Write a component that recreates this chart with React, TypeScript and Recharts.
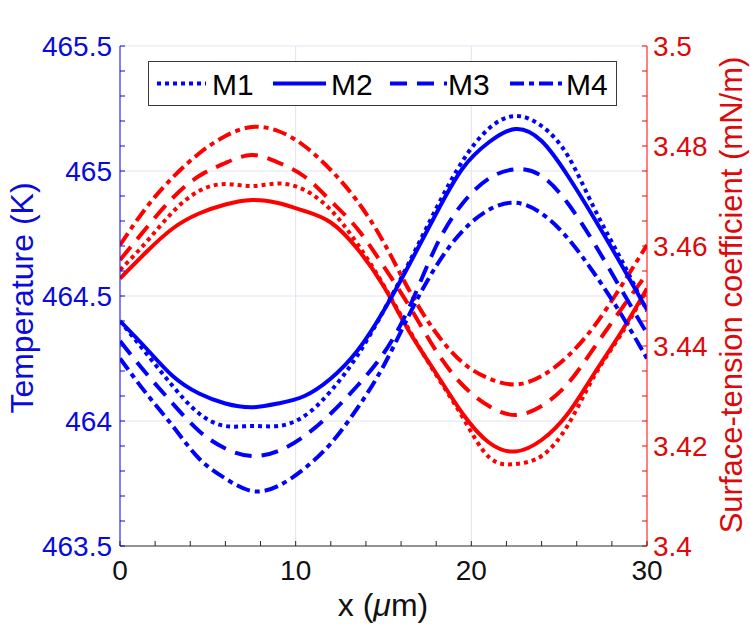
import { Line, LineChart, ReferenceLine, XAxis, YAxis } from "recharts";

// sampled positions along the channel (µm)
const X_UM = [0, 1.5, 3, 4.5, 6, 7.5, 9, 10.5, 12, 13.5, 15, 16.5, 18, 19.5, 21, 22.5, 24, 25.5, 27, 28.5, 30];

// temperature (K), left axis
const TEMP_M1 = [464.4, 464.27, 464.14, 464.03, 463.98, 463.98, 463.98, 464.02, 464.12, 464.26, 464.44, 464.64, 464.85, 465.04, 465.17, 465.22, 465.18, 465.06, 464.85, 464.65, 464.44];
const TEMP_M2 = [464.4, 464.29, 464.18, 464.11, 464.07, 464.055, 464.07, 464.1, 464.17, 464.28, 464.44, 464.63, 464.83, 465.01, 465.115, 465.168, 465.12, 464.98, 464.81, 464.63, 464.445];
const TEMP_M3 = [464.32, 464.19, 464.07, 463.96, 463.89, 463.86, 463.88, 463.94, 464.03, 464.14, 464.27, 464.46, 464.7, 464.87, 464.97, 465.007, 464.98, 464.87, 464.71, 464.53, 464.35];
const TEMP_M4 = [464.25, 464.11, 463.98, 463.85, 463.77, 463.72, 463.74, 463.81, 463.91, 464.05, 464.22, 464.43, 464.62, 464.76, 464.845, 464.873, 464.83, 464.73, 464.59, 464.43, 464.25];

// surface-tension coefficient (mN/m), right axis
const SIGMA_M1 = [3.4552, 3.4608, 3.4668, 3.471, 3.4724, 3.472, 3.4725, 3.4712, 3.4672, 3.4605, 3.4522, 3.443, 3.4342, 3.4258, 3.4178, 3.4164, 3.418, 3.4242, 3.434, 3.4422, 3.4513];
const SIGMA_M2 = [3.4535, 3.4588, 3.4635, 3.4665, 3.4683, 3.4692, 3.4686, 3.467, 3.4647, 3.4595, 3.452, 3.4427, 3.4345, 3.4265, 3.4207, 3.4189, 3.4212, 3.4265, 3.4345, 3.4426, 3.4515];
const SIGMA_M3 = [3.4572, 3.4636, 3.4696, 3.474, 3.4766, 3.4782, 3.4767, 3.4739, 3.469, 3.4635, 3.456, 3.4478, 3.439, 3.4322, 3.428, 3.4262, 3.428, 3.4325, 3.4397, 3.4472, 3.4545];
const SIGMA_M4 = [3.4602, 3.4677, 3.4737, 3.4785, 3.482, 3.4838, 3.483, 3.48, 3.4752, 3.469, 3.4608, 3.4509, 3.4426, 3.4367, 3.4335, 3.4323, 3.434, 3.438, 3.444, 3.4518, 3.4602];

// ticks (all tick marks) and labelled ticks
const X_TICKS = [0, 2, 4, 6, 8, 10, 12, 14, 16, 18, 20, 22, 24, 26, 28, 30];
const X_LABELS = [0, 10, 20, 30];
const TEMP_TICKS = [463.5, 463.6, 463.7, 463.8, 463.9, 464, 464.1, 464.2, 464.3, 464.4, 464.5, 464.6, 464.7, 464.8, 464.9, 465, 465.1, 465.2, 465.3, 465.4, 465.5];
const TEMP_LABELS = [463.5, 464, 464.5, 465, 465.5];
const SIGMA_TICKS = [3.4, 3.405, 3.41, 3.415, 3.42, 3.425, 3.43, 3.435, 3.44, 3.445, 3.45, 3.455, 3.46, 3.465, 3.47, 3.475, 3.48, 3.485, 3.49, 3.495, 3.5];
const SIGMA_LABELS = [3.4, 3.42, 3.44, 3.46, 3.48, 3.5];
const X_GRID = [10, 20];
const TEMP_GRID = [464, 464.5, 465, 465.5];

const LEGEND = ["M1", "M2", "M3", "M4"];

const BLUE = "#0000ff";
const RED = "#ff0000";
const BLUE_TEXT = "#0a0adc";
const RED_TEXT = "#dc0a0a";
const AXIS_GRAY = "#262626";
const GRID = "#e2e2ee";
const FONT = '"Liberation Sans", Arial, Helvetica, sans-serif';
const TICK_FONT = 28;
const TICK_LEN = 5;
const MARGIN = 8;

// line styles per model: dotted, solid, dashed, dash-dot
const DASHES = ["4 4", undefined, "17 10", "14 5 5 5"];
const LINE_W = 4;

const rows = X_UM.map((x, i) => ({
  x,
  tM1: TEMP_M1[i],
  tM2: TEMP_M2[i],
  tM3: TEMP_M3[i],
  tM4: TEMP_M4[i],
  sM1: SIGMA_M1[i],
  sM2: SIGMA_M2[i],
  sM3: SIGMA_M3[i],
  sM4: SIGMA_M4[i],
}));

function isLabel(v: number, labels: number[]) {
  return labels.some((l) => Math.abs(l - v) < 1e-9);
}

function BottomTick(props: any) {
  const { x, y, payload } = props;
  const axisY = y - MARGIN;
  const v = payload.value;
  return (
    <g>
      <line x1={x} x2={x} y1={axisY} y2={axisY - TICK_LEN} stroke={AXIS_GRAY} strokeWidth={1} />
      {isLabel(v, X_LABELS) && (
        <text x={x} y={axisY + 24} textAnchor="middle" dominantBaseline="central" fontSize={TICK_FONT} fontFamily={FONT} fill="#111">
          {v}
        </text>
      )}
    </g>
  );
}

function LeftTick(props: any) {
  const { x, y, payload } = props;
  const axisX = x + MARGIN;
  const v = payload.value;
  return (
    <g>
      <line x1={axisX} x2={axisX + TICK_LEN} y1={y} y2={y} stroke={BLUE_TEXT} strokeWidth={1} />
      {isLabel(v, TEMP_LABELS) && (
        <text x={axisX - 8} y={y} textAnchor="end" dominantBaseline="central" fontSize={TICK_FONT} fontFamily={FONT} fill={BLUE_TEXT}>
          {v}
        </text>
      )}
    </g>
  );
}

function RightTick(props: any) {
  const { x, y, payload } = props;
  const axisX = x - MARGIN;
  const v = payload.value;
  return (
    <g>
      <line x1={axisX} x2={axisX - TICK_LEN} y1={y} y2={y} stroke={RED_TEXT} strokeWidth={1} />
      {isLabel(v, SIGMA_LABELS) && (
        <text x={axisX + 6} y={y} textAnchor="start" dominantBaseline="central" fontSize={TICK_FONT} fontFamily={FONT} fill={RED_TEXT}>
          {v}
        </text>
      )}
    </g>
  );
}

function LegendBox() {
  const samples = [
    [8, 57],
    [124, 177],
    [241, 298],
    [361, 413],
  ];
  const textX = [63, 182, 299, 417];
  return (
    <div
      style={{
        position: "absolute",
        left: 148,
        top: 61,
        width: 469,
        height: 45,
        border: "1px solid #3a3a3a",
        background: "#fff",
        boxSizing: "border-box",
      }}
    >
      <svg width={467} height={43} style={{ display: "block" }}>
        {LEGEND.map((name, i) => (
          <g key={name}>
            <line
              x1={samples[i][0]}
              x2={samples[i][1]}
              y1={21.5}
              y2={21.5}
              stroke={BLUE}
              strokeWidth={LINE_W}
              strokeDasharray={DASHES[i]}
            />
            <text x={textX[i]} y={22} dominantBaseline="central" fontSize={30} fontFamily={FONT} fill="#000">
              {name}
            </text>
          </g>
        ))}
      </svg>
    </div>
  );
}

const titleStyle = {
  position: "absolute" as const,
  whiteSpace: "nowrap" as const,
  fontFamily: FONT,
  lineHeight: 1,
};

export default function App() {
  return (
    <div style={{ position: "absolute", left: 0, top: 0, width: 750, height: 625, background: "#fff" }}>
      <LineChart width={750} height={625} data={rows} margin={{ top: 46, right: 0, bottom: 0, left: 0 }}>
        {X_GRID.map((v) => (
          <ReferenceLine key={`gx${v}`} yAxisId="T" x={v} stroke={GRID} strokeWidth={1} />
        ))}
        {TEMP_GRID.map((v) => (
          <ReferenceLine key={`gy${v}`} yAxisId="T" y={v} stroke={GRID} strokeWidth={1} />
        ))}
        <XAxis
          dataKey="x"
          type="number"
          domain={[0, 30]}
          ticks={X_TICKS}
          interval={0}
          height={79}
          tickSize={0}
          tickMargin={MARGIN}
          tickLine={false}
          axisLine={{ stroke: AXIS_GRAY }}
          tick={<BottomTick />}
          allowDataOverflow
        />
        <YAxis
          yAxisId="T"
          orientation="left"
          width={120}
          type="number"
          domain={[463.5, 465.5]}
          ticks={TEMP_TICKS}
          interval={0}
          tickSize={0}
          tickMargin={MARGIN}
          tickLine={false}
          axisLine={{ stroke: BLUE }}
          tick={<LeftTick />}
          allowDataOverflow
        />
        <YAxis
          yAxisId="S"
          orientation="right"
          width={103}
          type="number"
          domain={[3.4, 3.5]}
          ticks={SIGMA_TICKS}
          interval={0}
          tickSize={0}
          tickMargin={MARGIN}
          tickLine={false}
          axisLine={{ stroke: RED }}
          tick={<RightTick />}
          allowDataOverflow
        />
        {["sM4", "sM3", "sM1", "sM2"].map((k) => {
          const i = Number(k.slice(2)) - 1;
          return (
            <Line
              key={k}
              yAxisId="S"
              type="natural"
              dataKey={k}
              stroke={RED}
              strokeWidth={LINE_W}
              strokeDasharray={DASHES[i]}
              dot={false}
              isAnimationActive={false}
            />
          );
        })}
        {["tM4", "tM3", "tM1", "tM2"].map((k) => {
          const i = Number(k.slice(2)) - 1;
          return (
            <Line
              key={k}
              yAxisId="T"
              type="natural"
              dataKey={k}
              stroke={BLUE}
              strokeWidth={LINE_W}
              strokeDasharray={DASHES[i]}
              dot={false}
              isAnimationActive={false}
            />
          );
        })}
      </LineChart>

      <LegendBox />

      <div
        style={{
          ...titleStyle,
          left: 22,
          top: 298,
          fontSize: 32,
          color: BLUE_TEXT,
          transform: "translate(-50%, -50%) rotate(-90deg)",
        }}
      >
        Temperature (K)
      </div>
      <div
        style={{
          ...titleStyle,
          left: 731,
          top: 295,
          fontSize: 31,
          color: RED_TEXT,
          transform: "translate(-50%, -50%) rotate(-90deg)",
        }}
      >
        Surface-tension coefficient (mN/m)
      </div>
      <div
        style={{
          ...titleStyle,
          left: 383,
          top: 605,
          fontSize: 32,
          color: "#111",
          transform: "translate(-50%, -50%)",
        }}
      >
        x (<span style={{ fontStyle: "italic" }}>μ</span>m)
      </div>
    </div>
  );
}
